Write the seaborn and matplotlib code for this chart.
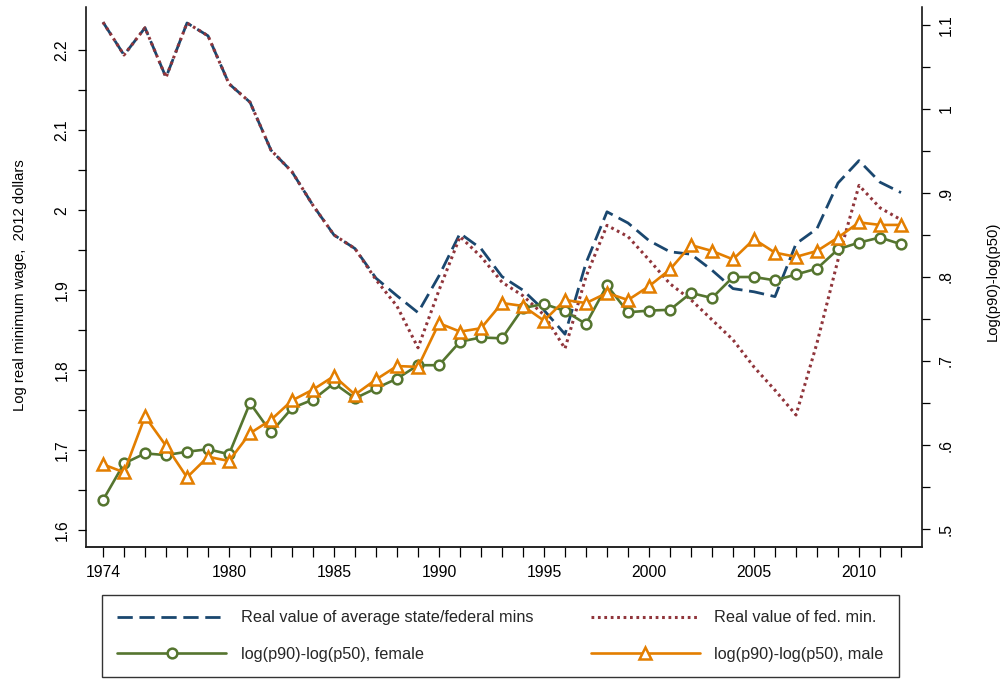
import matplotlib
matplotlib.use("Agg")
import matplotlib.pyplot as plt
import seaborn as sns
import pandas as pd

# ---------------- data ----------------
years = list(range(1974, 2013))

avg_state_fed_min = [2.235, 2.194, 2.228, 2.166, 2.234, 2.218, 2.158, 2.135, 2.075, 2.048,
                     2.006, 1.969, 1.952, 1.915, 1.893, 1.872, 1.918, 1.971, 1.952, 1.917,
                     1.900, 1.875, 1.845, 1.934, 1.998, 1.984, 1.962, 1.948, 1.945, 1.925,
                     1.902, 1.898, 1.892, 1.958, 1.977, 2.034, 2.062, 2.035, 2.022]

fed_min = [2.235, 2.194, 2.228, 2.166, 2.234, 2.218, 2.158, 2.135, 2.075, 2.048,
           2.006, 1.969, 1.952, 1.913, 1.880, 1.828, 1.900, 1.967, 1.942, 1.910,
           1.893, 1.869, 1.827, 1.917, 1.981, 1.967, 1.938, 1.908, 1.888, 1.863,
           1.838, 1.804, 1.775, 1.744, 1.834, 1.938, 2.031, 2.003, 1.988]

p90p50_female = [0.5345, 0.578, 0.590, 0.588, 0.592, 0.595, 0.589, 0.650, 0.615, 0.644,
                 0.654, 0.6735, 0.6556, 0.6675, 0.679, 0.695, 0.695, 0.723, 0.728, 0.727,
                 0.763, 0.768, 0.7595, 0.744, 0.790, 0.758, 0.760, 0.761, 0.781, 0.775,
                 0.800, 0.800, 0.796, 0.803, 0.810, 0.833, 0.841, 0.847, 0.839]

p90p50_male = [0.577, 0.5675, 0.634, 0.599, 0.5615, 0.586, 0.581, 0.614, 0.630, 0.653,
               0.666, 0.682, 0.660, 0.678, 0.694, 0.693, 0.745, 0.735, 0.739, 0.769,
               0.7655, 0.748, 0.7726, 0.769, 0.781, 0.7726, 0.789, 0.809, 0.838, 0.831,
               0.821, 0.845, 0.829, 0.824, 0.831, 0.847, 0.865, 0.862, 0.862]

x_label_years = [1974, 1980, 1985, 1990, 1995, 2000, 2005, 2010]
left_ticks = [1.6, 1.7, 1.8, 1.9, 2.0, 2.1, 2.2]
left_tick_labels = ["1.6", "1.7", "1.8", "1.9", "2", "2.1", "2.2"]
left_minor = [1.65, 1.75, 1.85, 1.95, 2.05, 2.15]
right_ticks = [0.5, 0.6, 0.7, 0.8, 0.9, 1.0, 1.1]
right_tick_labels = [".5", ".6", ".7", ".8", ".9", "1", "1.1"]
right_minor = [0.55, 0.65, 0.75, 0.85, 0.95, 1.05]

series_labels = ["Real value of average state/federal mins",
                 "Real value of fed. min.",
                 "log(p90)-log(p50), female",
                 "log(p90)-log(p50), male"]
left_title = "Log real minimum wage,  2012 dollars"
right_title = "Log(p90)-log(p50)"

navy = "#1a476f"
maroon = "#90353b"
green = "#55752f"
orange = "#e37e00"

# ---------------- style ----------------
sns.set_theme(style="ticks")
plt.rcParams["font.family"] = ["Liberation Sans", "DejaVu Sans"]
plt.rcParams["axes.linewidth"] = 1.1

df = pd.DataFrame({
    "year": years,
    "avg": avg_state_fed_min,
    "fed": fed_min,
    "female": p90p50_female,
    "male": p90p50_male,
})

fig = plt.figure(figsize=(10.05, 6.79), dpi=100)
ax = fig.add_axes([86 / 1005, 1 - 547 / 679, (922 - 86) / 1005, (547 - 7) / 679])
ax2 = ax.twinx()

sns.lineplot(data=df, x="year", y="avg", ax=ax, color=navy, linewidth=2.0,
             linestyle=(0, (5.5, 2.4)), label=series_labels[0], legend=False)
sns.lineplot(data=df, x="year", y="fed", ax=ax, color=maroon, linewidth=2.2,
             linestyle=(0, (0.9, 1.2)), label=series_labels[1], legend=False)
sns.lineplot(data=df, x="year", y="female", ax=ax2, color=green, linewidth=1.9,
             marker="o", markersize=7.0, markerfacecolor="white",
             markeredgecolor=green, markeredgewidth=1.8,
             label=series_labels[2], legend=False)
sns.lineplot(data=df, x="year", y="male", ax=ax2, color=orange, linewidth=1.9,
             marker="^", markersize=9.0, markerfacecolor="white",
             markeredgecolor=orange, markeredgewidth=1.8,
             label=series_labels[3], legend=False)

# ---------------- axes ----------------
ax.set_xlim(1973.19, 2013.0)
ax.set_ylim(1.579, 2.254)
ax2.set_ylim(0.4786, 1.1214)

ax.set_xticks(years)
ax.set_xticklabels([str(y) if y in x_label_years else "" for y in years])
ax.set_yticks(left_ticks)
ax.set_yticklabels(left_tick_labels)
ax.set_yticks(left_minor, minor=True)
ax2.set_yticks(right_ticks)
ax2.set_yticklabels(right_tick_labels)
ax2.set_yticks(right_minor, minor=True)

for a in (ax, ax2):
    a.tick_params(axis="both", which="both", direction="out", length=6,
                  width=0.9, color="black", labelcolor="black", labelsize=11.3)
    a.spines["top"].set_visible(False)
    a.grid(False)
    a.set_xlabel("")
ax.tick_params(axis="x", length=7, pad=6)
ax.tick_params(axis="y", which="both", labelrotation=90, pad=6)
ax2.tick_params(axis="y", which="both", labelrotation=90, pad=6)
for lab in ax.get_yticklabels():
    lab.set_va("center")
for lab in ax2.get_yticklabels():
    lab.set_va("center")
ax.spines["right"].set_visible(False)
ax2.spines["left"].set_visible(False)
for s in ("left", "bottom"):
    ax.spines[s].set_color("black")
ax2.spines["right"].set_color("black")

ax.set_ylabel(left_title, fontsize=10.7, color="black")
ax2.set_ylabel(right_title, fontsize=10.7, color="black", rotation=90)
ax.yaxis.set_label_coords((27 - 86) / 836, (547 - 285) / 540)
ax2.yaxis.set_label_coords((986 - 86) / 836, (547 - 281) / 540)

# ---------------- legend ----------------
l_avg, l_fed = ax.get_lines()[:2]
l_fem, l_male = ax2.get_lines()[:2]
handles = [l_avg, l_fem, l_fed, l_male]
labels = [series_labels[0], series_labels[2], series_labels[1], series_labels[3]]
leg = fig.legend(handles, labels, loc="upper left",
                 bbox_to_anchor=(102 / 1005, 1 - 595 / 679),
                 ncol=2, frameon=True, fancybox=False,
                 edgecolor="black", fontsize=11.7, handlelength=6.7,
                 handletextpad=0.92, labelspacing=1.3, borderpad=0.95,
                 columnspacing=3.5, borderaxespad=0.0, numpoints=1)
leg.get_frame().set_linewidth(1.0)
leg.get_frame().set_facecolor("white")

fig.savefig("out.png", dpi=100)
